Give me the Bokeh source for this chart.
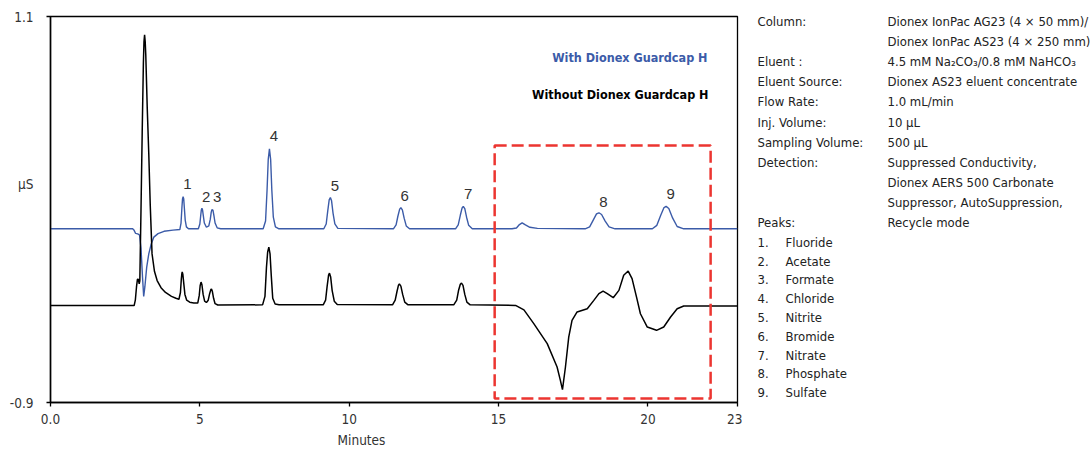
from bokeh.plotting import figure
from bokeh.layouts import row
from bokeh.models import (Range1d, FixedTicker, LabelSet, Label, ColumnDataSource,
                          BoxAnnotation, LinearAxis)
from bokeh.core.properties import value
from bokeh.embed import file_html
from bokeh.resources import INLINE

# ---------------- data ----------------
# Trace "With Dionex Guardcap H" (blue)
with_time = [0.0, 2.75, 2.8, 2.85, 2.92, 2.98, 3.03, 3.08, 3.12, 3.16, 3.22, 3.29, 3.37, 3.46, 3.6, 3.8, 4.1, 4.33,
             4.37, 4.40, 4.42, 4.44, 4.46, 4.48, 4.51, 4.55, 4.62,
             4.95, 5.0, 5.03, 5.05, 5.07, 5.09, 5.11, 5.15, 5.22,
             5.3, 5.35, 5.38, 5.4, 5.42, 5.44, 5.47, 5.51, 5.58, 5.7,
             7.12, 7.2, 7.25, 7.29, 7.33, 7.37, 7.41, 7.46, 7.53, 7.65,
             9.15, 9.23, 9.28, 9.33, 9.37, 9.41, 9.46, 9.52, 9.62,
             11.48, 11.57, 11.63, 11.69, 11.73, 11.78, 11.84, 11.91, 12.02,
             13.56, 13.65, 13.72, 13.78, 13.82, 13.87, 13.93, 14.0, 14.12,
             15.45, 15.6, 15.7, 15.79, 15.9, 16.05, 16.3, 17.85,
             17.9, 18.05, 18.17, 18.28, 18.36, 18.45, 18.57, 18.7, 18.9,
             20.15, 20.3, 20.43, 20.54, 20.61, 20.7, 20.83, 20.98, 21.2, 23.0]
with_signal = [0.0, 0.0, -0.008, -0.024, -0.026, -0.032, -0.1, -0.25, -0.35, -0.3, -0.2, -0.13, -0.08, -0.043, -0.025, -0.013, -0.007, -0.004,
               0.03, 0.11, 0.155, 0.167, 0.155, 0.11, 0.045, 0.01, 0.0,
               0.0, 0.025, 0.07, 0.098, 0.107, 0.098, 0.075, 0.03, 0.008,
               0.015, 0.05, 0.085, 0.097, 0.10, 0.095, 0.07, 0.03, 0.005, 0.0,
               0.0, 0.04, 0.2, 0.36, 0.414, 0.36, 0.2, 0.06, 0.01, 0.0,
               0.0, 0.025, 0.09, 0.15, 0.162, 0.145, 0.08, 0.025, 0.002,
               0.0, 0.02, 0.065, 0.102, 0.109, 0.098, 0.055, 0.015, 0.0,
               0.0, 0.02, 0.07, 0.108, 0.116, 0.104, 0.06, 0.018, 0.0,
               0.0, 0.004, 0.022, 0.031, 0.02, 0.008, 0.002, 0.0,
               0.0, 0.01, 0.045, 0.077, 0.083, 0.074, 0.04, 0.01, 0.0,
               0.0, 0.018, 0.07, 0.11, 0.116, 0.105, 0.055, 0.012, 0.0, 0.0]

# Trace "Without Dionex Guardcap H" (black)
without_time = [0.0, 2.8, 2.84, 2.88, 2.91, 2.94, 2.97, 2.99, 3.03, 3.07, 3.11, 3.13, 3.15, 3.17, 3.19, 3.24, 3.29, 3.34,
                3.4, 3.48, 3.57, 3.7, 3.85, 4.05, 4.2, 4.3,
                4.35, 4.38, 4.4, 4.41, 4.43, 4.46, 4.5, 4.56, 4.66, 4.8,
                4.93, 4.98, 5.01, 5.04, 5.07, 5.11, 5.16, 5.22,
                5.28, 5.33, 5.37, 5.39, 5.42, 5.46, 5.51, 5.6,
                7.1, 7.18, 7.23, 7.27, 7.31, 7.35, 7.39, 7.44, 7.52, 7.65,
                9.13, 9.21, 9.26, 9.31, 9.34, 9.38, 9.43, 9.5, 9.6,
                11.45, 11.54, 11.6, 11.65, 11.68, 11.73, 11.79, 11.86, 11.96,
                13.5, 13.6, 13.66, 13.72, 13.76, 13.81, 13.87, 13.94, 14.05,
                15.57, 15.85, 16.18, 16.63, 16.96, 17.07, 17.14, 17.24, 17.35, 17.46, 17.63, 17.97,
                18.19, 18.36, 18.5, 18.64, 18.84, 19.03, 19.19, 19.34, 19.47, 19.62, 19.75, 19.98,
                20.29, 20.53, 20.76, 20.98, 21.2, 23.0]
without_signal = [-0.398, -0.398, -0.37, -0.3, -0.262, -0.262, -0.285, -0.27, 0.1, 0.5, 0.86, 0.97, 1.005, 0.97, 0.9, 0.62, 0.39, 0.12,
                  -0.13, -0.22, -0.268, -0.305, -0.33, -0.35, -0.36, -0.365,
                  -0.33, -0.26, -0.23, -0.224, -0.235, -0.28, -0.34, -0.37, -0.38, -0.384,
                  -0.385, -0.345, -0.295, -0.276, -0.29, -0.34, -0.375, -0.382,
                  -0.37, -0.335, -0.314, -0.312, -0.325, -0.36, -0.388, -0.395,
                  -0.394, -0.35, -0.2, -0.12, -0.095, -0.13, -0.24, -0.36, -0.39, -0.394,
                  -0.394, -0.37, -0.3, -0.24, -0.23, -0.25, -0.32, -0.375, -0.392,
                  -0.394, -0.37, -0.325, -0.292, -0.286, -0.297, -0.34, -0.38, -0.393,
                  -0.394, -0.37, -0.32, -0.287, -0.281, -0.293, -0.34, -0.38, -0.394,
                  -0.397, -0.42, -0.491, -0.595, -0.716, -0.785, -0.833, -0.716, -0.561, -0.474, -0.431, -0.414,
                  -0.371, -0.336, -0.323, -0.336, -0.357, -0.319, -0.241, -0.219, -0.258, -0.354, -0.44, -0.509,
                  -0.526, -0.509, -0.457, -0.414, -0.4, -0.4]

peak_numbers = ["1", "2", "3", "4", "5", "6", "7", "8", "9"]
peak_label_time = [4.58, 5.21, 5.58, 7.48, 9.52, 11.86, 13.98, 18.51, 20.76]
peak_label_signal = [0.233, 0.164, 0.164, 0.479, 0.224, 0.171, 0.181, 0.141, 0.181]

x_ticks = [0, 5, 10, 15, 20, 23]
x_tick_labels = ["0.0", "5", "10", "15", "20", "23"]
x_title = "Minutes"
y_ticks = [-0.9, 1.1]
y_tick_labels = ["-0.9", "1.1"]
y_title = "\u00b5S"

series_names = ["With Dionex Guardcap H", "Without Dionex Guardcap H"]

highlight_start, highlight_end = 14.87, 22.1
highlight_top, highlight_bottom = 0.431, -0.879

condition_keys = ["Column:", "", "Eluent :", "Eluent Source:", "Flow Rate:", "Inj. Volume:",
                  "Sampling Volume:", "Detection:", "", "", "Peaks:"]
condition_values = ["Dionex IonPac AG23 (4 \u00d7 50 mm)/", "Dionex IonPac AS23 (4 \u00d7 250 mm)",
                    "4.5 mM Na\u2082CO\u2083/0.8 mM NaHCO\u2083", "Dionex AS23 eluent concentrate",
                    "1.0 mL/min", "10 \u00b5L", "500 \u00b5L", "Suppressed Conductivity,",
                    "Dionex AERS 500 Carbonate", "Suppressor, AutoSuppression,", "Recycle mode"]
peak_names = ["Fluoride", "Acetate", "Formate", "Chloride", "Nitrite", "Bromide", "Nitrate",
              "Phosphate", "Sulfate"]

# ---------------- style / layout ----------------
BLUE = "#3b5ba8"
TEXT = "#222222"
COND = "'DejaVu Sans Condensed', 'Liberation Sans', sans-serif"

FRAME_L, FRAME_R, FRAME_T, FRAME_B = 50, 737, 16, 402   # page pixels
X0_PX, PX_PER_MIN = FRAME_L, (FRAME_R - FRAME_L) / 23.0
Y0_PX, PX_PER_UNIT = FRAME_T, (FRAME_B - FRAME_T) / 2.0
TOTAL_H = 451


def col_x(px):
    return (px - X0_PX) / PX_PER_MIN


def row_y(py):
    return 1.1 - (py - Y0_PX) / PX_PER_UNIT


p = figure(width=FRAME_R + 5, height=TOTAL_H, min_border_left=FRAME_L, min_border_right=5,
           min_border_top=FRAME_T, min_border_bottom=TOTAL_H - FRAME_B,
           x_range=Range1d(0, 23), y_range=Range1d(-0.9, 1.1),
           output_backend="svg", toolbar_location=None)
p.grid.visible = False
p.outline_line_color = "black"
p.outline_line_width = 1.3

# x axis: numeric ticks
p.xaxis.ticker = FixedTicker(ticks=x_ticks, minor_ticks=[])
p.xaxis.major_label_overrides = dict(zip(x_ticks, x_tick_labels))
# y axis: end ticks drawn as minor ticks, axis title placed as an extra label
y_title_pos = row_y(183)
p.yaxis.ticker = FixedTicker(ticks=y_ticks + [y_title_pos], minor_ticks=y_ticks)
p.yaxis.major_label_overrides = {**dict(zip(y_ticks, y_tick_labels)), y_title_pos: y_title}

for ax in (p.xaxis, p.yaxis):
    ax.axis_line_color = "black"
    ax.axis_line_width = 1.5
    ax.major_label_text_font = COND
    ax.major_label_text_font_size = "13.5px"
    ax.major_label_text_color = "#333333"
p.xaxis.major_tick_line_color = "black"
p.xaxis.major_tick_line_width = 1.3
p.xaxis.major_tick_in = 0
p.xaxis.major_tick_out = 4
p.xaxis.minor_tick_line_color = None
p.xaxis.major_label_standoff = 7
p.yaxis.major_tick_line_color = None
p.yaxis.major_tick_in = 0
p.yaxis.major_tick_out = 4
p.yaxis.minor_tick_line_color = "black"
p.yaxis.minor_tick_line_width = 1.3
p.yaxis.minor_tick_in = 0
p.yaxis.minor_tick_out = 4
p.yaxis.major_label_standoff = 13

# x axis title as a second, line-less axis below
title_pos = col_x(361)
xt = LinearAxis(ticker=FixedTicker(ticks=[title_pos], minor_ticks=[]),
                major_label_overrides={title_pos: x_title},
                axis_line_color=None, major_tick_line_color=None, major_tick_out=0,
                major_tick_in=0, minor_tick_line_color=None, major_label_standoff=5,
                major_label_text_font=COND, major_label_text_font_size="13.5px",
                major_label_text_color="#333333")
p.add_layout(xt, "below")

# traces
p.line(with_time, with_signal, line_color=BLUE, line_width=1.4)
p.line(without_time, without_signal, line_color="black", line_width=1.5)

# highlight box
p.add_layout(BoxAnnotation(left=highlight_start, right=highlight_end, top=highlight_top,
                           bottom=highlight_bottom, fill_alpha=0, line_color="#ec3530",
                           line_alpha=1.0, line_width=2.5, line_dash="12 5"))

# peak numbers
src = ColumnDataSource(dict(x=peak_label_time, y=peak_label_signal, t=peak_numbers))
p.add_layout(LabelSet(x="x", y="y", text="t", source=src, text_align="center",
                      text_baseline="middle", text_font=value("Liberation Sans"),
                      text_font_size=value("15px"), text_color="#333333"))

# series labels
p.add_layout(Label(x=col_x(707), y=row_y(57), text=series_names[0], text_align="right",
                   text_baseline="middle", text_font=COND, text_font_style="bold",
                   text_font_size="12.5px", text_color=BLUE))
p.add_layout(Label(x=col_x(708), y=row_y(94), text=series_names[1], text_align="right",
                   text_baseline="middle", text_font=COND, text_font_style="bold",
                   text_font_size="12.5px", text_color="black"))

# ---------------- conditions panel (page-pixel coordinates) ----------------
PANEL_LEFT, PANEL_RIGHT = FRAME_R + 5, 1091
q = figure(width=PANEL_RIGHT - PANEL_LEFT, height=TOTAL_H, min_border_left=0, min_border_right=0,
           min_border_top=FRAME_T, min_border_bottom=TOTAL_H - FRAME_B,
           x_range=Range1d(PANEL_LEFT, PANEL_RIGHT), y_range=Range1d(FRAME_B, FRAME_T),
           x_axis_location=None, y_axis_location=None,
           output_backend="svg", toolbar_location=None)
q.grid.visible = False
q.outline_line_color = None

n = len(condition_keys)
cond_y = [21 + 20.1 * i for i in range(n)]
m = len(peak_names)
pk_y = [241.7 + 18.8 * i for i in range(m)]
texts = [
    ([757] * n, cond_y, condition_keys),
    ([887] * n, cond_y, condition_values),
    ([757] * m, pk_y, [f"{s}." for s in peak_numbers]),
    ([785] * m, pk_y, peak_names),
]
for xs, ys, tt in texts:
    q.text(x=xs, y=ys, text=tt, text_align="left", text_baseline="middle",
           text_font=value(COND), text_font_size="13px", text_color=TEXT, level="overlay")

layout = row(p, q, spacing=0)
open("out.html", "w").write(file_html(layout, INLINE))
